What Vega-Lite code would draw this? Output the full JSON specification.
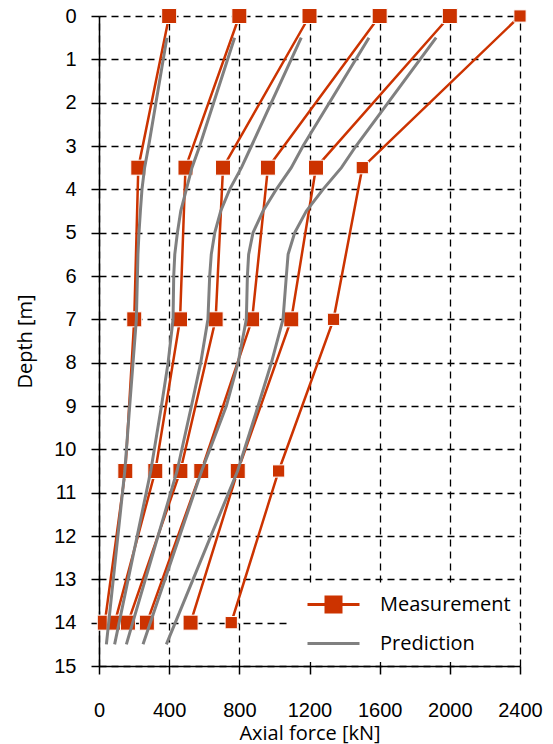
{
  "$schema": "https://vega.github.io/schema/vega-lite/v6.json",
  "autosize": "none",
  "width": 421,
  "height": 650,
  "padding": {"left": 99, "top": 16, "right": 33, "bottom": 78},
  "background": "white",
  "config": {
    "view": {"stroke": null},
    "axis": {
      "labelFont": "Liberation Sans",
      "labelFontSize": 20,
      "labelColor": "#000",
      "titleFont": "Open Sans",
      "titleFontSize": 20,
      "titleFontWeight": "normal",
      "titleColor": "#000",
      "domainColor": "#000",
      "domainWidth": 1.5,
      "tickColor": "#000",
      "tickWidth": 1.5,
      "tickSize": 8,
      "grid": true,
      "gridColor": "#000",
      "gridWidth": 1.3,
      "gridDash": [7, 5],
      "gridOpacity": 1,
      "labelFlush": false,
      "labelOverlap": false
    }
  },
  "datasets": {
    "rows": [
      {"kind": "Measurement", "series": 1, "depth": 0, "force": 400},
      {"kind": "Measurement", "series": 1, "depth": 3.5, "force": 224},
      {"kind": "Measurement", "series": 1, "depth": 7, "force": 201},
      {"kind": "Measurement", "series": 1, "depth": 10.5, "force": 150},
      {"kind": "Measurement", "series": 1, "depth": 14, "force": 33},
      {"kind": "Measurement", "series": 2, "depth": 0, "force": 800},
      {"kind": "Measurement", "series": 2, "depth": 3.5, "force": 493},
      {"kind": "Measurement", "series": 2, "depth": 7, "force": 462},
      {"kind": "Measurement", "series": 2, "depth": 10.5, "force": 321},
      {"kind": "Measurement", "series": 2, "depth": 14, "force": 90},
      {"kind": "Measurement", "series": 3, "depth": 0, "force": 1200},
      {"kind": "Measurement", "series": 3, "depth": 3.5, "force": 707},
      {"kind": "Measurement", "series": 3, "depth": 7, "force": 665},
      {"kind": "Measurement", "series": 3, "depth": 10.5, "force": 464},
      {"kind": "Measurement", "series": 3, "depth": 14, "force": 165},
      {"kind": "Measurement", "series": 4, "depth": 0, "force": 1600},
      {"kind": "Measurement", "series": 4, "depth": 3.5, "force": 963},
      {"kind": "Measurement", "series": 4, "depth": 7, "force": 873},
      {"kind": "Measurement", "series": 4, "depth": 10.5, "force": 583},
      {"kind": "Measurement", "series": 4, "depth": 14, "force": 273},
      {"kind": "Measurement", "series": 5, "depth": 0, "force": 2000},
      {"kind": "Measurement", "series": 5, "depth": 3.5, "force": 1237},
      {"kind": "Measurement", "series": 5, "depth": 7, "force": 1096},
      {"kind": "Measurement", "series": 5, "depth": 10.5, "force": 791},
      {"kind": "Measurement", "series": 5, "depth": 14, "force": 522},
      {"kind": "Measurement", "series": 6, "depth": 0, "force": 2400},
      {"kind": "Measurement", "series": 6, "depth": 3.5, "force": 1501},
      {"kind": "Measurement", "series": 6, "depth": 7, "force": 1337},
      {"kind": "Measurement", "series": 6, "depth": 10.5, "force": 1024},
      {"kind": "Measurement", "series": 6, "depth": 14, "force": 754},
      {"kind": "Prediction", "series": 1, "depth": 0.5, "force": 387},
      {"kind": "Prediction", "series": 1, "depth": 3, "force": 283},
      {"kind": "Prediction", "series": 1, "depth": 3.5, "force": 260},
      {"kind": "Prediction", "series": 1, "depth": 4, "force": 245},
      {"kind": "Prediction", "series": 1, "depth": 4.5, "force": 236},
      {"kind": "Prediction", "series": 1, "depth": 5, "force": 228},
      {"kind": "Prediction", "series": 1, "depth": 5.5, "force": 222},
      {"kind": "Prediction", "series": 1, "depth": 6, "force": 219},
      {"kind": "Prediction", "series": 1, "depth": 7, "force": 213},
      {"kind": "Prediction", "series": 1, "depth": 8, "force": 194},
      {"kind": "Prediction", "series": 1, "depth": 9, "force": 175},
      {"kind": "Prediction", "series": 1, "depth": 10.5, "force": 147},
      {"kind": "Prediction", "series": 1, "depth": 14.5, "force": 42},
      {"kind": "Prediction", "series": 2, "depth": 0.5, "force": 773},
      {"kind": "Prediction", "series": 2, "depth": 3, "force": 574},
      {"kind": "Prediction", "series": 2, "depth": 3.5, "force": 530},
      {"kind": "Prediction", "series": 2, "depth": 4, "force": 498},
      {"kind": "Prediction", "series": 2, "depth": 4.5, "force": 466},
      {"kind": "Prediction", "series": 2, "depth": 5, "force": 447},
      {"kind": "Prediction", "series": 2, "depth": 5.5, "force": 432},
      {"kind": "Prediction", "series": 2, "depth": 6, "force": 426},
      {"kind": "Prediction", "series": 2, "depth": 7, "force": 422},
      {"kind": "Prediction", "series": 2, "depth": 8, "force": 394},
      {"kind": "Prediction", "series": 2, "depth": 9, "force": 356},
      {"kind": "Prediction", "series": 2, "depth": 10.5, "force": 295},
      {"kind": "Prediction", "series": 2, "depth": 14.5, "force": 89},
      {"kind": "Prediction", "series": 3, "depth": 0.5, "force": 1153},
      {"kind": "Prediction", "series": 3, "depth": 3, "force": 869},
      {"kind": "Prediction", "series": 3, "depth": 3.5, "force": 812},
      {"kind": "Prediction", "series": 3, "depth": 4, "force": 745},
      {"kind": "Prediction", "series": 3, "depth": 4.5, "force": 694},
      {"kind": "Prediction", "series": 3, "depth": 5, "force": 660},
      {"kind": "Prediction", "series": 3, "depth": 5.5, "force": 640},
      {"kind": "Prediction", "series": 3, "depth": 6, "force": 631},
      {"kind": "Prediction", "series": 3, "depth": 7, "force": 621},
      {"kind": "Prediction", "series": 3, "depth": 8, "force": 580},
      {"kind": "Prediction", "series": 3, "depth": 9, "force": 527},
      {"kind": "Prediction", "series": 3, "depth": 10.5, "force": 445},
      {"kind": "Prediction", "series": 3, "depth": 14.5, "force": 156},
      {"kind": "Prediction", "series": 4, "depth": 0.5, "force": 1539},
      {"kind": "Prediction", "series": 4, "depth": 3, "force": 1163},
      {"kind": "Prediction", "series": 4, "depth": 3.5, "force": 1096},
      {"kind": "Prediction", "series": 4, "depth": 4, "force": 1011},
      {"kind": "Prediction", "series": 4, "depth": 4.5, "force": 935},
      {"kind": "Prediction", "series": 4, "depth": 5, "force": 878},
      {"kind": "Prediction", "series": 4, "depth": 5.5, "force": 853},
      {"kind": "Prediction", "series": 4, "depth": 6, "force": 846},
      {"kind": "Prediction", "series": 4, "depth": 7, "force": 840},
      {"kind": "Prediction", "series": 4, "depth": 8, "force": 793},
      {"kind": "Prediction", "series": 4, "depth": 9, "force": 726},
      {"kind": "Prediction", "series": 4, "depth": 10.5, "force": 585},
      {"kind": "Prediction", "series": 4, "depth": 14.5, "force": 251},
      {"kind": "Prediction", "series": 5, "depth": 0.5, "force": 1922},
      {"kind": "Prediction", "series": 5, "depth": 3, "force": 1465},
      {"kind": "Prediction", "series": 5, "depth": 3.5, "force": 1382},
      {"kind": "Prediction", "series": 5, "depth": 4, "force": 1277},
      {"kind": "Prediction", "series": 5, "depth": 4.5, "force": 1182},
      {"kind": "Prediction", "series": 5, "depth": 5, "force": 1116},
      {"kind": "Prediction", "series": 5, "depth": 5.5, "force": 1078},
      {"kind": "Prediction", "series": 5, "depth": 6, "force": 1068},
      {"kind": "Prediction", "series": 5, "depth": 7, "force": 1049},
      {"kind": "Prediction", "series": 5, "depth": 8, "force": 983},
      {"kind": "Prediction", "series": 5, "depth": 9, "force": 907},
      {"kind": "Prediction", "series": 5, "depth": 10.5, "force": 790},
      {"kind": "Prediction", "series": 5, "depth": 14.5, "force": 384}
    ]
  },
  "data": {"name": "rows"},
  "encoding": {
    "x": {
      "field": "force",
      "type": "quantitative",
      "scale": {"domain": [0, 2400], "nice": false, "zero": false},
      "axis": {
        "title": "Axial force [kN]",
        "orient": "bottom",
        "format": "d",
        "values": [0, 400, 800, 1200, 1600, 2000, 2400],
        "labelPadding": 26,
        "titlePadding": 3
      }
    },
    "y": {
      "field": "depth",
      "type": "quantitative",
      "scale": {"domain": [0, 15], "nice": false, "zero": false, "reverse": true},
      "axis": {
        "title": "Depth [m]",
        "format": "d",
        "values": [0, 1, 2, 3, 4, 5, 6, 7, 8, 9, 10, 11, 12, 13, 14, 15],
        "labelPadding": 15,
        "titlePadding": 18
      }
    }
  },
  "layer": [
    {
      "transform": [{"filter": "datum.kind === 'Measurement'"}],
      "mark": {"type": "line", "color": "#CC3300", "strokeWidth": 2.5},
      "encoding": {
        "detail": {"field": "series", "type": "nominal"},
        "order": {"field": "depth", "type": "quantitative"}
      }
    },
    {
      "transform": [{"filter": "datum.kind === 'Measurement'"}],
      "mark": {"type": "point", "shape": "square", "filled": true, "fill": "#CC3300", "stroke": "white", "strokeWidth": 1, "opacity": 1},
      "encoding": {
        "size": {"condition": {"test": "datum.series === 6", "value": 150}, "value": 225}
      }
    },
    {
      "transform": [{"filter": "datum.kind === 'Prediction'"}],
      "mark": {"type": "line", "color": "#808080", "strokeWidth": 3},
      "encoding": {
        "detail": {"field": "series", "type": "nominal"},
        "order": {"field": "depth", "type": "quantitative"}
      }
    },
    {
      "mark": {"type": "point", "filled": false, "fill": "#CC3300", "opacity": 0, "size": 400},
      "encoding": {
        "color": {
          "field": "kind",
          "type": "nominal",
          "scale": {"domain": ["Measurement", "Prediction"], "range": ["#CC3300", "#808080"]},
          "legend": {
            "title": null,
            "orient": "none",
            "legendX": 191,
            "legendY": 569,
            "padding": 8,
            "fillColor": "white",
            "symbolSize": 400,
            "symbolStrokeWidth": 3,
            "symbolOpacity": 1,
            "symbolFillColor": "#CC3300",
            "labelFont": "Open Sans",
            "labelFontSize": 20,
            "labelColor": "#000",
            "labelOffset": 59,
            "rowPadding": 14
          }
        },
        "shape": {
          "field": "kind",
          "type": "nominal",
          "scale": {"domain": ["Measurement", "Prediction"], "range": ["M-0.2,0H5.0M1.65,-0.75H3.15V0.75H1.65Z", "M-0.2,0H5.0"]},
          "legend": {
            "title": null,
            "orient": "none",
            "legendX": 191,
            "legendY": 569,
            "padding": 8,
            "fillColor": "white",
            "symbolSize": 400,
            "symbolStrokeWidth": 3,
            "symbolOpacity": 1,
            "symbolFillColor": "#CC3300",
            "labelFont": "Open Sans",
            "labelFontSize": 20,
            "labelColor": "#000",
            "labelOffset": 59,
            "rowPadding": 14
          }
        }
      }
    }
  ]
}
